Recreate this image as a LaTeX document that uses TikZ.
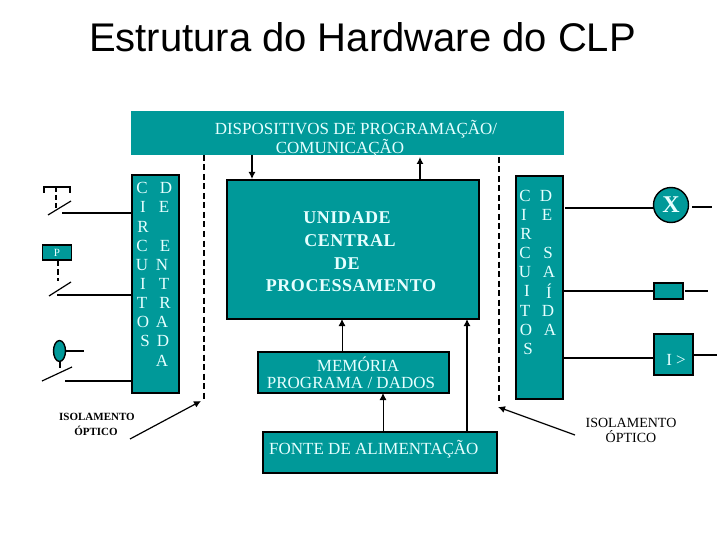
\documentclass[tikz,border=0pt]{standalone}
\usepackage{fontspec}
\setmainfont{Liberation Serif}
\newfontfamily\titlefont{Liberation Sans}
\newfontfamily\spacedbold[LetterSpace=3,UprightFont=*-Bold]{Liberation Serif}
\usetikzlibrary{arrows.meta}
\definecolor{teal1}{HTML}{009999}
\definecolor{paper}{HTML}{E6FFFF}
\tikzset{
  x=1pt,y=-1pt,
  tealbox/.style={fill=teal1,draw=black,line width=1.4pt,inner sep=0pt},
  wire/.style={draw=black,line width=1.2pt},
  thin wire/.style={draw=black,line width=0.9pt},
  flow/.style={wire,-{Latex[length=7pt,width=7pt]}},
  isol/.style={draw=black,line width=1.4pt,dash pattern=on 6pt off 3.5pt},
  nib/.style={draw=black,line width=1.2pt},
  lbl/.style={text=paper,font=\fontsize{17}{19}\selectfont,inner sep=0pt},
  cpulbl/.style={text=paper,font=\spacedbold\fontsize{18}{20}\selectfont,inner sep=0pt},
  letter/.style={text=paper,font=\fontsize{17}{19}\selectfont,inner sep=0pt},
  iso/.style={text=black,inner sep=0pt},
}
\begin{document}
\begin{tikzpicture}
\useasboundingbox (0,0) rectangle (720,540);
\fill[white] (0,0) rectangle (720,540);
\node[inner sep=0pt,font=\titlefont\fontsize{40}{44}\selectfont] (title) at (362.5,37) {Estrutura do Hardware do CLP};
% boxes
\path[fill=teal1] (131,111) rectangle (564,155);
\node[lbl] (prog1) at (356,129) {DISPOSITIVOS DE PROGRAMAÇÃO/};
\node[lbl] (prog2) at (340,148) {COMUNICAÇÃO};
\draw[tealbox] (132,175) rectangle (179,393);
\draw[tealbox] (227,180) rectangle (479,319);
\draw[tealbox] (258,352) rectangle (449,393);
\draw[tealbox] (263,432) rectangle (497,473);
\draw[tealbox] (516,176) rectangle (563,399);
% texts
\node[cpulbl] (cpu1) at (347,218) {UNIDADE};
\node[cpulbl] (cpu2) at (350,241) {CENTRAL};
\node[cpulbl] (cpu3) at (347,264) {DE};
\node[cpulbl] (cpu4) at (351,286) {PROCESSAMENTO};
\node[lbl] (mem1) at (358,364) {MEMÓRIA};
\node[lbl] (mem2) at (351,383) {PROGRAMA / DADOS};
\node[lbl,anchor=west] (fonte) at (269,449) {FONTE DE ALIMENTAÇÃO};
% left letters
\foreach \c/\x/\y [count=\i] in {C/142/188,I/143/207,R/143/227,C/142/246,U/142/265,I/143/284,T/142/303,O/143/322,S/145/341,
  D/166/188,E/164/207,E/165/246,N/162/265,T/164/284,R/165/303,A/162/322,D/163/341,A/162/361}
  \node[letter] (la\i) at (\x,\y) {\c};
% right letters
\foreach \c/\x/\y [count=\i] in {C/525/196,I/524/215,R/526/234,C/525/253,U/525/272,I/527/291,T/525/311,O/526/330,S/528/349,
  D/546/196,E/547/215,S/548/253,A/549/272,Í/549/291,D/548/311,A/550/330}
  \node[letter] (ra\i) at (\x,\y) {\c};
% isolation
\draw[isol] (204,155) -- (204,400);
\draw[isol] (499,157) -- (499,403);
\node[iso,font=\bfseries\fontsize{11}{12}\selectfont] (isoa) at (97,417) {ISOLAMENTO};
\node[iso,font=\bfseries\fontsize{11}{12}\selectfont] (isob) at (96,431) {ÓPTICO};
\node[iso,font=\fontsize{14}{16}\selectfont] (isoc) at (631,423) {ISOLAMENTO};
\node[iso,font=\fontsize{14}{16}\selectfont] (isod) at (631,437) {ÓPTICO};
\coordinate (ia) at (130,439); \coordinate (iat) at (201,401);
\coordinate (ib) at (575,435); \coordinate (ibt) at (498,407);
\draw[flow] (ia) -- (iat);
\draw[flow] (ib) -- (ibt);
% flows
\draw[flow] (252,155) -- (252,179);
\draw[flow] (420,180) -- (420,157);
\draw[flow,thin wire] (342,352) -- (342,319);
\draw[flow,thin wire] (383,432) -- (383,393);
\draw[flow] (467,432) -- (467,319);
% switch 1
\draw[nib] (44,193) -- (44,187) -- (70,187) -- (70,193);
\draw[nib,dash pattern=on 5pt off 3pt] (56,187) -- (56,209);
\draw[wire] (48,215) -- (71,201);
\draw[wire] (62,213) -- (132,213);
% switch 2
\node[tealbox,minimum width=29pt,minimum height=15pt,text=paper,font=\fontsize{11}{12}\selectfont] (pb) at (57,252.5) {P};
\draw[nib,dash pattern=on 6pt off 3pt] (58,260) -- (58,281);
\draw[wire] (49,296) -- (71,282);
\draw[wire] (57,295) -- (132,295);
% switch 3
\draw[tealbox] (59.5,351) ellipse [x radius=6,y radius=10.5];
\draw[wire] (65,351) -- (84,351);
\draw[wire] (60,361) -- (60,368);
\draw[wire] (42,381) -- (72,367);
\draw[wire] (65,381) -- (132,381);
% outputs
\node[tealbox,circle,minimum size=35pt,text=paper,font=\bfseries\fontsize{24}{26}\selectfont] (lamp) at (671,205) {X};
\draw[wire] (565,208) -- (lamp.west |- 0,208);
\draw[wire] (692,207) -- (712,207);
\node[tealbox,minimum width=29pt,minimum height=16pt] (coil) at (668.5,291) {};
\draw[wire] (563,291) -- (coil.west);
\draw[wire] (685,291) -- (708,291);
\node[tealbox,minimum width=39pt,minimum height=41pt] (relay) at (673.5,354.5) {};
\node[text=paper,inner sep=0pt,font=\fontsize{17}{19}\selectfont] (relayt) at (676,360) {I >};
\draw[wire] (562,358) -- (relay.west |- 0,358);
\draw[wire] (693,355) -- (717,355);
\end{tikzpicture}
\end{document}
